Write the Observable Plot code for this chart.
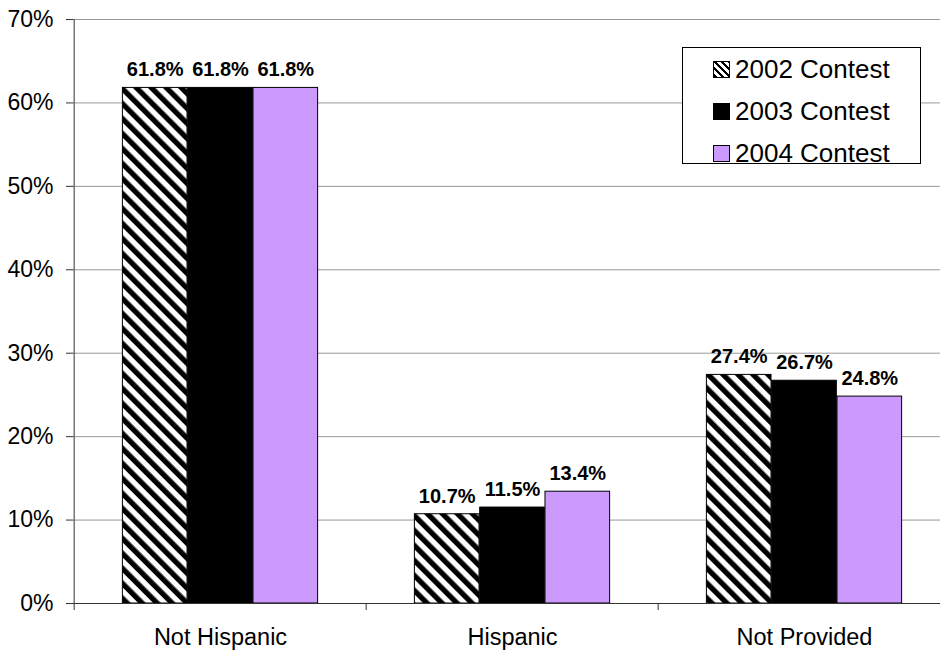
<!DOCTYPE html>
<html><head><meta charset="utf-8">
<script src="https://cdn.jsdelivr.net/npm/d3@7"></script>
<script src="https://cdn.jsdelivr.net/npm/@observablehq/plot@0.6"></script>
<style>
body{margin:0;overflow:hidden;background:#fff;font-family:"Liberation Sans",Arial,sans-serif}
#wrap{position:relative;width:940px;height:652px;overflow:hidden}
#legend{position:absolute;left:682px;top:47px;width:239px;height:117px;border:1px solid #000;background:#fff;box-sizing:border-box}
.row{position:absolute;left:30px;display:flex;align-items:center;font-size:26px;height:30px;color:#000;white-space:nowrap}
.sw{width:17px;height:17px;border:1px solid #000;box-sizing:border-box;margin-right:5px}
</style></head><body><div id="wrap"></div>
<script>
const categories = ["Not Hispanic", "Hispanic", "Not Provided"];
const series = ["2002 Contest", "2003 Contest", "2004 Contest"];
const v2002 = [61.8, 10.7, 27.4];
const v2003 = [61.8, 11.5, 26.7];
const v2004 = [61.8, 13.4, 24.8];
const yTicks = [0, 10, 20, 30, 40, 50, 60, 70];

const values = [v2002, v2003, v2004];
const fills = ["url(#hatch)", "#000000", "#CC99FF"];
const band = (951 - 73) / 3;
const bw = 65.3;
const inset = (band - bw) / 2;

const rows = series.map((s, si) => categories.map((c, ci) => ({category: c, series: s, value: values[si][ci]})));

const marks = [
  Plot.gridY({ticks: yTicks, stroke: "#999", strokeOpacity: 1}),
];
rows.forEach((data, si) => {
  const dx = (si - 1) * bw;
  marks.push(Plot.barY(data, {x: "category", y: "value", fill: fills[si], stroke: "#000", strokeWidth: 1, insetLeft: inset + dx, insetRight: inset - dx}));
});
rows.forEach((data, si) => {
  const dx = (si - 1) * bw;
  marks.push(Plot.text(data, {x: "category", y: "value", text: d => d.value.toFixed(1) + "%", dx, dy: -18, fontWeight: "bold", fontSize: 20, fill: "#000"}));
});
marks.push(
  Plot.ruleY([0], {stroke: "#333"}),
  Plot.ruleX([categories[0]], {dx: -band / 2, y1: 0, y2: 70, stroke: "#333"}),
  Plot.axisY({ticks: yTicks, tickFormat: d => d + "%", tickSize: 7, tickPadding: 13, fontSize: 23, stroke: "#333", label: null}),
  Plot.axisX({tickSize: 0, tickPadding: 25, fontSize: 23.5, label: null}),
  Plot.axisX({tickSize: 7, tickFormat: () => "", dx: -band / 2, stroke: "#333", label: null})
);

const chart = Plot.plot({
  width: 940,
  height: 652,
  marginTop: 19,
  marginBottom: 49,
  marginLeft: 73,
  marginRight: 0,
  style: {fontFamily: "'Liberation Sans', Arial, sans-serif", color: "#000", background: "#fff"},
  x: {domain: categories, range: [73, 951], padding: 0},
  y: {domain: [0, 70], range: [603, 19]},
  marks
});
chart.insertAdjacentHTML("afterbegin",
  '<defs><pattern id="hatch" patternUnits="userSpaceOnUse" width="10.6" height="10.6" patternTransform="rotate(-45)">' +
  '<rect width="10.6" height="10.6" fill="#fff"/><rect width="5.3" height="10.6" fill="#000"/></pattern></defs>');
const wrap = document.getElementById("wrap");
wrap.appendChild(chart);

const legend = document.createElement("div");
legend.id = "legend";
const swStyles = [
  "background:repeating-linear-gradient(45deg,#000 0 2.5px,#fff 2.5px 5px)",
  "background:#000",
  "background:#CC99FF"
];
series.forEach((s, i) => {
  const r = document.createElement("div");
  r.className = "row";
  r.style.top = (6 + i * 42) + "px";
  r.innerHTML = `<span class="sw" style="${swStyles[i]}"></span><span>${s}</span>`;
  legend.appendChild(r);
});
wrap.appendChild(legend);
</script>
</body></html>
